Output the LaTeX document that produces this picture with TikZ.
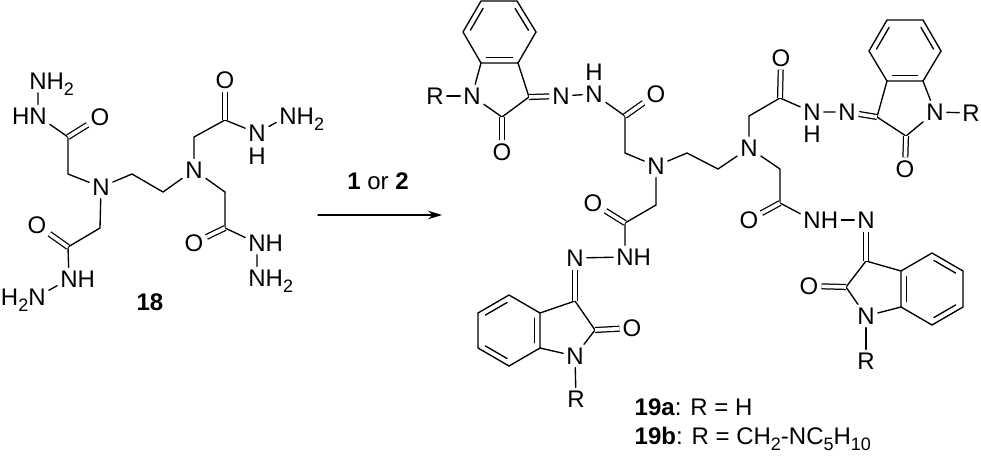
\documentclass[tikz,border=0pt]{standalone}
\usepackage{fontspec}
\setmainfont{Liberation Sans}
\usetikzlibrary{calc,arrows.meta}

\newcommand{\ringdb}[2]{\draw ($(#1)!0.15!(#2)!5.5pt!90:(#2)$) -- ($(#1)!0.85!(#2)!5.5pt!-90:(#1)$);}
\newcommand{\subtxt}[1]{\raisebox{-6pt}{\fontsize{18}{20}\selectfont #1}}

\begin{document}
\begin{tikzpicture}[x=1pt, y=-1pt, line width=1.35pt, line cap=round,
    atom/.style={inner sep=2.5pt, text height=17pt, text depth=0pt, font=\fontsize{24}{26}\selectfont},
    lab/.style={atom, inner sep=0pt, anchor=west},
    dbl/.style={double, double distance=3.6pt, line width=1.25pt, line cap=butt}]
  \useasboundingbox (0,0) rectangle (981,456);

  % compound 18
  \node[atom] (Na) at (101,187) {N};
  \node[atom] (Nb) at (194,170) {N};
  \node[atom] (Nc) at (38,116) {\llap{H}N};
  \node[atom] (Nd) at (38,81) {N\rlap{H\subtxt{2}}};
  \node[atom] (Oa) at (100,117) {O};
  \node[atom] (Ne) at (69,279) {N\rlap{H}};
  \node[atom] (Nf) at (37,297) {\llap{H\subtxt{2}}N};
  \node[atom] (Ob) at (37,225) {O};
  \node[atom] (Oc) at (225,80) {O};
  \node[atom] (Ng) at (257,133) {N};
  \node[atom] (Ha) at (257,156) {H};
  \node[atom] (Nh) at (288,116) {N\rlap{H\subtxt{2}}};
  \node[atom] (Od) at (194,243) {O};
  \node[atom] (Ni) at (257,243) {N\rlap{H}};
  \node[atom] (Nj) at (257,278) {N\rlap{H\subtxt{2}}};
  \node[atom] (cpdA) at (150,302) {\textbf{18}};
  \coordinate (ca) at (68,137);
  \coordinate (cb) at (68,174);
  \coordinate (cc) at (100,228);
  \coordinate (cd) at (68,247);
  \coordinate (ce) at (132,174);
  \coordinate (cf) at (163,192);
  \coordinate (cg) at (194,137);
  \coordinate (ch) at (225,120);
  \coordinate (ci) at (225,192);
  \coordinate (cj) at (225,228);
  \draw (Nd) -- (Nc) -- (ca) -- (cb) -- (Na) -- (cc) -- (cd) -- (Ne) -- (Nf);
  \draw (Na) -- (ce) -- (cf) -- (Nb) -- (cg) -- (ch) -- (Ng) -- (Nh);
  \draw (Nb) -- (ci) -- (cj) -- (Ni) -- (Nj);
  \foreach \a/\b in {ca/Oa, cd/Ob, ch/Oc, cj/Od}
    \draw[dbl] (\a) -- (\b);

  % reaction arrow
  \coordinate (arrA) at (318,215);
  \coordinate (arrB) at (442,215);
  \draw[line width=1.2pt, -{Stealth[length=14pt,width=8.5pt]}] (arrA) -- (arrB);
  \node[atom] (cond) at (378,181) {\textbf{1} or \textbf{2}};

  % product, central part
  \node[atom] (Pa) at (656,166) {N};
  \node[atom] (Pb) at (749,148) {N};
  \coordinate (pa) at (687,153);
  \coordinate (pb) at (718,169);
  \draw (Pa) -- (pa) -- (pb) -- (Pb);

  % top left arm
  \coordinate (a1) at (481,1);
  \coordinate (a2) at (517,1);
  \coordinate (a3) at (536,32);
  \coordinate (a4) at (518,63);
  \coordinate (a5) at (481,63);
  \coordinate (a6) at (463,32);
  \coordinate (a7) at (502,117);
  \coordinate (a8) at (529,97);
  \coordinate (a9) at (625,116);
  \coordinate (a10) at (625,153);
  \node[atom] (Aa) at (472,96) {N};
  \node[atom] (Ab) at (435,96) {R};
  \node[atom] (Ac) at (502,152) {O};
  \node[atom] (Ad) at (561,96) {N};
  \node[atom] (Ae) at (594,94) {N};
  \node[atom] (Af) at (594,72) {H};
  \node[atom] (Ag) at (656,94) {O};
  \draw (a1) -- (a2) -- (a3) -- (a4) -- (a5) -- (a6) -- cycle;
  \draw (a5) -- (Aa) -- (a7) -- (a8) -- (a4);
  \draw (Ab) -- (Aa);
  \draw (Ad) -- (Ae) -- (a9) -- (a10) -- (Pa);
  \draw[dbl] (a7) -- (Ac);
  \draw[dbl] (a8) -- (Ad);
  \draw[dbl] (a9) -- (Ag);
  \foreach \a/\b in {a1/a6, a3/a2, a5/a4}
    {\ringdb{\a}{\b}}

  % top right arm
  \coordinate (b1) at (887,81);
  \coordinate (b2) at (923,81);
  \coordinate (b3) at (941,51);
  \coordinate (b4) at (923,20);
  \coordinate (b5) at (887,20);
  \coordinate (b6) at (869,51);
  \coordinate (b7) at (906,136);
  \coordinate (b8) at (877,117);
  \coordinate (b9) at (780,98);
  \coordinate (b10) at (749,116);
  \node[atom] (Ba) at (935,112) {N};
  \node[atom] (Bb) at (971,113) {R};
  \node[atom] (Bc) at (905,169) {O};
  \node[atom] (Bd) at (847,112) {N};
  \node[atom] (Be) at (812,112) {N};
  \node[atom] (Bf) at (812,134) {H};
  \node[atom] (Bg) at (781,58) {O};
  \draw (b1) -- (b2) -- (b3) -- (b4) -- (b5) -- (b6) -- cycle;
  \draw (b2) -- (Ba) -- (b7) -- (b8) -- (b1);
  \draw (Ba) -- (Bb);
  \draw (Bd) -- (Be) -- (b9) -- (b10) -- (Pb);
  \draw[dbl] (b7) -- (Bc);
  \draw[dbl] (b8) -- (Bd);
  \draw[dbl] (b9) -- (Bg);
  \foreach \a/\b in {b1/b2, b3/b4, b5/b6}
    {\ringdb{\a}{\b}}

  % lower right arm
  \coordinate (c1) at (901,271);
  \coordinate (c2) at (901,307);
  \coordinate (c3) at (932,325);
  \coordinate (c4) at (963,307);
  \coordinate (c5) at (963,271);
  \coordinate (c6) at (932,253);
  \coordinate (c7) at (846,287);
  \coordinate (c8) at (866,261);
  \coordinate (c9) at (780,203);
  \coordinate (c10) at (780,169);
  \node[atom] (Ca) at (866,316) {N};
  \node[atom] (Cb) at (866,361) {R};
  \node[atom] (Cc) at (809,286) {O};
  \node[atom] (Cd) at (866,220) {N};
  \node[atom] (Ce) at (812,220) {N};
  \node[atom] (Cf) at (829.5,220) {H};
  \node[atom] (Cg) at (749,220) {O};
  \draw (c1) -- (c2) -- (c3) -- (c4) -- (c5) -- (c6) -- cycle;
  \draw (c2) -- (Ca) -- (c7) -- (c8) -- (c1);
  \draw (Ca) -- (Cb);
  \draw (Cd) -- (Cf);
  \draw (Ce) -- (c9) -- (c10) -- (Pb);
  \draw[dbl] (c7) -- (Cc);
  \draw[dbl] (c8) -- (Cd);
  \draw[dbl] (c9) -- (Cg);
  \foreach \a/\b in {c1/c2, c3/c4, c5/c6}
    {\ringdb{\a}{\b}}

  % lower left arm
  \coordinate (d1) at (540,313);
  \coordinate (d2) at (540,348);
  \coordinate (d3) at (509,366);
  \coordinate (d4) at (478,348);
  \coordinate (d5) at (478,313);
  \coordinate (d6) at (509,295);
  \coordinate (d7) at (595,330);
  \coordinate (d8) at (575,301);
  \coordinate (d9) at (625,223);
  \coordinate (d10) at (656,205);
  \node[atom] (Da) at (575,356) {N};
  \node[atom] (Db) at (576,399) {R};
  \node[atom] (Dc) at (632,328) {O};
  \node[atom] (Dd) at (575,258) {N};
  \node[atom] (De) at (625,257) {N\rlap{H}};
  \node[atom] (Dg) at (593,203) {O};
  \draw (d1) -- (d2) -- (d3) -- (d4) -- (d5) -- (d6) -- cycle;
  \draw (d2) -- (Da) -- (d7) -- (d8) -- (d1);
  \draw (Da) -- (Db);
  \draw (Dd) -- (De) -- (d9) -- (d10) -- (Pa);
  \draw[dbl] (d7) -- (Dc);
  \draw[dbl] (d8) -- (Dd);
  \draw[dbl] (d9) -- (Dg);
  \foreach \a/\b in {d2/d1, d6/d5, d4/d3}
    {\ringdb{\a}{\b}}

  \node[lab] (cpdB) at (634,407) {\textbf{19a}: R = H};
  \node[lab] (cpdC) at (634,436) {\textbf{19b}: R = CH\subtxt{2}-NC\subtxt{5}H\subtxt{10}};
\end{tikzpicture}
\end{document}
